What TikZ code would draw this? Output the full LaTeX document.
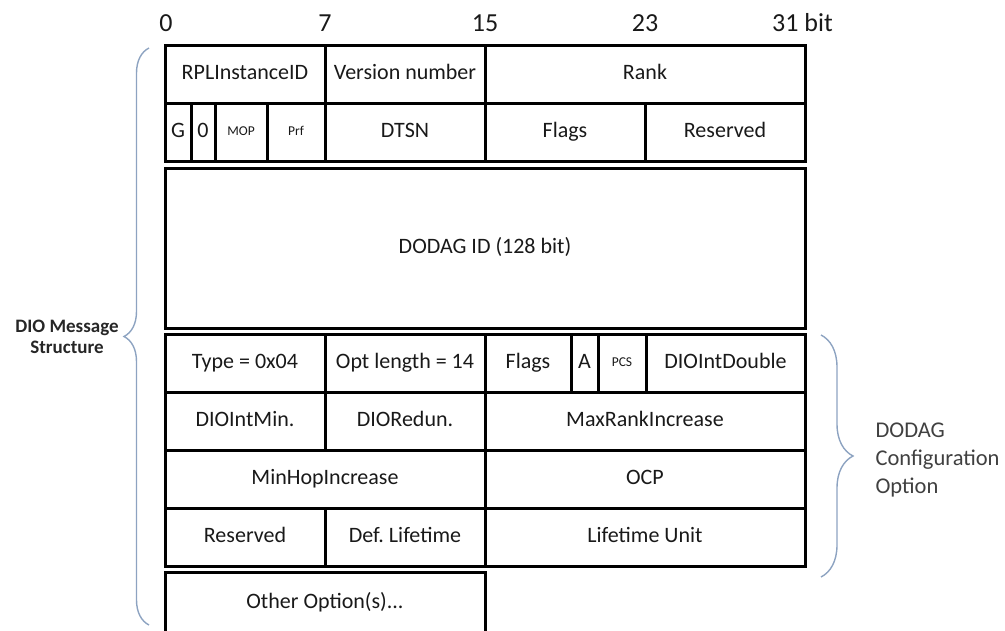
\documentclass[tikz,border=0pt]{standalone}
\usepackage{fontspec}
\setmainfont{Carlito}
\usetikzlibrary{positioning,decorations.pathreplacing}

\definecolor{bracecol}{HTML}{8DA3C1}
\definecolor{labelgray}{HTML}{404040}

\tikzset{
  field/.style={draw, line width=3pt, inner sep=0pt, outer sep=0pt,
    minimum height=58pt, text height=14pt, text depth=4pt,
    font=\fontsize{22}{25}\selectfont, text=black!90},
  smallfield/.style={field, text height=9pt, text depth=2pt, font=\fontsize{13.5}{15}\selectfont},
  bitnum/.style={inner sep=0pt, font=\fontsize{26}{28}\selectfont, text=black!90},
  brace/.style={decorate, draw=bracecol, line width=1.4pt},
}

\begin{document}
\begin{tikzpicture}[x=1pt, y=-1pt, node distance=0pt]
    \useasboundingbox (0,0) rectangle (1005,630);

    % bit positions
    \node[bitnum] (b0) at (166,23) {0};
    \node[bitnum] (b7) at (325,23) {7};
    \node[bitnum] (b15) at (485,23) {15};
    \node[bitnum] (b23) at (645,23) {23};
    \node[bitnum, anchor=west] (b31) at (772,23) {31 bit};

    % first word
    \node[field, anchor=north west, minimum width=160pt] (inst) at (165,45) {RPLInstanceID};
    \node[field, minimum width=160pt, right=of inst] (ver) {Version number};
    \node[field, minimum width=320pt, right=of ver] (rank) {Rank};

    % second word
    \node[field, minimum width=26pt, below right=0pt and 0pt of inst.south west] (g) {G};
    \node[field, minimum width=24pt, right=of g] (zero) {0};
    \node[smallfield, minimum width=52pt, right=of zero] (mop) {MOP};
    \node[smallfield, minimum width=58pt, right=of mop] (prf) {Prf};
    \node[field, minimum width=160pt, right=of prf] (dtsn) {DTSN};
    \node[field, minimum width=160pt, right=of dtsn] (flags) {Flags};
    \node[field, minimum width=160pt, right=of flags] (resv) {Reserved};

    % DODAG ID
    \node[field, minimum width=640pt, minimum height=160pt, below right=7pt and 0pt of g.south west] (dodagid) {DODAG ID (128 bit)};

    % DODAG configuration option
    \node[field, minimum width=160pt, below right=6pt and 0pt of dodagid.south west] (type) {Type = 0x04};
    \node[field, minimum width=160pt, right=of type] (optlen) {Opt length = 14};
    \node[field, minimum width=86pt, right=of optlen] (cflags) {Flags};
    \node[field, minimum width=27pt, right=of cflags] (abit) {A};
    \node[smallfield, minimum width=48pt, right=of abit] (pcs) {PCS};
    \node[field, minimum width=159pt, right=of pcs] (dbl) {DIOIntDouble};

    \node[field, minimum width=160pt, below right=0pt and 0pt of type.south west] (imin) {DIOIntMin.};
    \node[field, minimum width=160pt, right=of imin] (redun) {DIORedun.};
    \node[field, minimum width=320pt, right=of redun] (maxrank) {MaxRankIncrease};

    \node[field, minimum width=320pt, below right=0pt and 0pt of imin.south west] (minhop) {MinHopIncrease};
    \node[field, minimum width=320pt, right=of minhop] (ocp) {OCP};

    \node[field, minimum width=160pt, below right=0pt and 0pt of minhop.south west] (resv2) {Reserved};
    \node[field, minimum width=160pt, right=of resv2] (deflife) {Def.\ Lifetime};
    \node[field, minimum width=320pt, right=of deflife] (lifeunit) {Lifetime Unit};

    % other options
    \node[field, minimum width=320pt, minimum height=62pt, below right=6pt and 0pt of resv2.south west] (other) {Other Option(s)...};

    % braces
    \coordinate (ltop) at (149,48);
    \coordinate (lbot) at (149,625);
    \draw[brace, decoration={brace, amplitude=25pt}] (lbot) -- (ltop);
    \node[align=center, font=\fontsize{19}{21}\selectfont\bfseries, text=black!85] (dio) at (67,337) {DIO Message\\Structure};

    \coordinate (rtop) at (821,335);
    \coordinate (rbot) at (821,577);
    \draw[brace, decoration={brace, amplitude=32pt}] (rtop) -- (rbot);
    \node[anchor=west, align=left, font=\fontsize{22.5}{28}\selectfont, text=labelgray] (cfg) at (872,460) {DODAG\\Configuration\\Option};
\end{tikzpicture}
\end{document}
